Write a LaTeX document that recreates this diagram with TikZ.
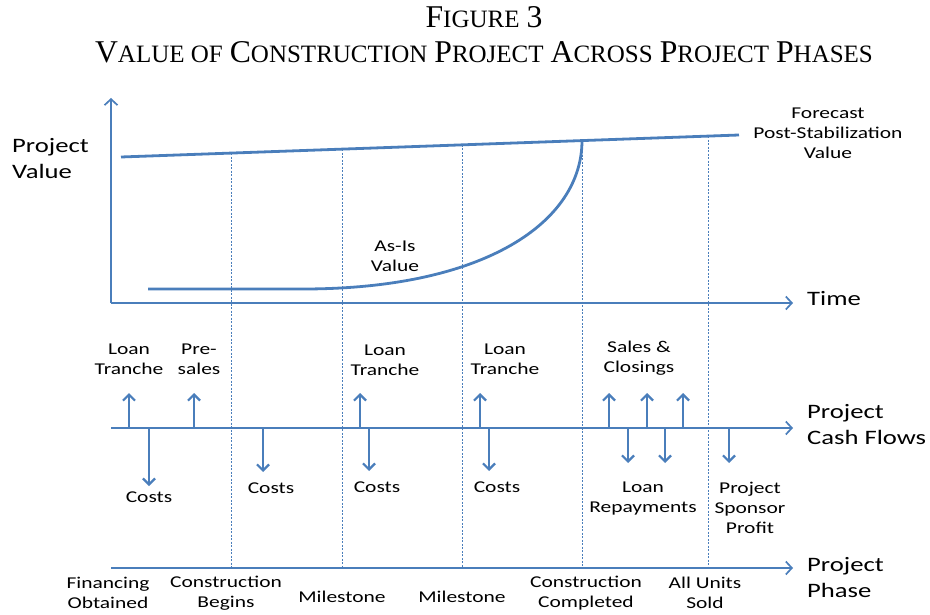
\documentclass[tikz,border=0pt]{standalone}
\usepackage{fontspec}
\setmainfont{Carlito}[FakeStretch=1.3]
\newfontfamily\titlefont{Liberation Serif}
\usetikzlibrary{arrows.meta,positioning,calc}
\definecolor{chartblue}{RGB}{74,126,187}

\newcommand{\capsc}[2]{{\fontsize{31.7}{34}\selectfont #1}{\fontsize{25}{34}\selectfont #2}}

\begin{document}
\begin{tikzpicture}[x=1pt, y=-1pt,
    axis/.style={draw=chartblue, line width=1.7pt, -{Straight Barb[length=6pt,width=13pt]}},
    valueline/.style={draw=chartblue, line width=2.8pt},
    flow/.style={draw=chartblue, line width=2.2pt, -{Straight Barb[length=6pt,width=12pt]}},
    phase/.style={draw=chartblue, line width=0.7pt, dash pattern=on 2pt off 1.5pt},
    lbl/.style={align=center, font=\fontsize{16.5}{20}\selectfont, inner sep=0pt},
    biglbl/.style={align=left, font=\fontsize{20.5}{26}\selectfont, inner sep=0pt, anchor=west},
    titlelbl/.style={anchor=base, inner sep=0pt, font=\titlefont\fontsize{28}{34}\selectfont}]
    \useasboundingbox (0,0) rectangle (930,615);

    % title
    \node[titlelbl] (fig) at (484,28) {\capsc{F}{IGURE} \capsc{3}{}};
    \node[titlelbl] (title) at (484,63)
        {\capsc{V}{ALUE OF} \capsc{C}{ONSTRUCTION} \capsc{P}{ROJECT} \capsc{A}{CROSS} \capsc{P}{ROJECT} \capsc{P}{HASES}};

    % axes
    \coordinate (origin) at (111,303);
    \coordinate (vtop) at (111,98);
    \coordinate (tend) at (793,303);
    \coordinate (cfstart) at (111,428);
    \coordinate (cfend) at (793,428);
    \coordinate (phstart) at (111,568);
    \coordinate (phend) at (793,568);
    \draw[axis] (origin) -- (vtop);
    \draw[axis] (origin) -- (tend);
    \draw[axis] (cfstart) -- (cfend);
    \draw[axis] (phstart) -- (phend);

    \node[biglbl] (pvalue) at (12,159) {Project\\Value};
    \node[biglbl] (time) at (807,299) {Time};
    \node[biglbl] (cashflows) at (807,425) {Project\\Cash Flows};
    \node[biglbl] (projphase) at (807,578) {Project\\Phase};

    % phase markers
    \foreach \n/\x/\y in {1/231/153.1, 2/342/149.1, 3/462/144.9, 4/582/140.6, 5/708/136.1} {
        \coordinate (ptop\n) at (\x,\y);
        \coordinate (pbot\n) at (\x,568);
        \draw[phase] (ptop\n) -- (pbot\n);
    }

    % value curves
    \coordinate (fstart) at (121,157);
    \coordinate (fend) at (739,135);
    \draw[valueline] (fstart) -- (fend);
    \node[lbl, align=center] (forecast) at (828,133) {Forecast\\Post-Stabilization\\Value};

    \coordinate (asis0) at (148,289);
    \coordinate (asis1) at (303,289);
    \draw[valueline] (asis0) -- (asis1) .. controls (485,289) and (582,222) .. (ptop4);
    \node[lbl] (asis) at (395,256) {As-Is\\Value};

    % cash flows
    \foreach \n/\x/\y in {1/129/393, 2/194/393, 3/360/393, 4/480/393, 5/609/393, 6/647/393, 7/683/393,
                          8/149/486, 9/263/472, 10/369/471, 11/489/471, 12/628/463, 13/665/463, 14/729/463} {
        \coordinate (cf\n) at (\x,428);
        \coordinate (cftip\n) at (\x,\y);
        \draw[flow] (cf\n) -- (cftip\n);
    }

    \node[lbl] (tranche1) at (129,359) {Loan\\Tranche};
    \node[lbl] (presales) at (199,359) {Pre-\\sales};
    \node[lbl] (tranche2) at (385,360) {Loan\\Tranche};
    \node[lbl] (tranche3) at (505,359) {Loan\\Tranche};
    \node[lbl] (sales) at (639,358) {Sales \&\\Closings};
    \node[lbl] (costs1) at (149,497) {Costs};
    \node[lbl] (costs2) at (271,488) {Costs};
    \node[lbl] (costs3) at (377,487) {Costs};
    \node[lbl] (costs4) at (497,487) {Costs};
    \node[lbl] (repay) at (643,499) {Loan\\Repayments};
    \node[lbl] (profit) at (750,508) {Project\\Sponsor\\Profit};

    % phase labels
    \node[lbl] (financing) at (108,593) {Financing\\Obtained};
    \node[lbl] (begins) at (226,593) {Construction\\Begins};
    \node[lbl] (mile1) at (342,597) {Milestone};
    \node[lbl] (mile2) at (462,597) {Milestone};
    \node[lbl] (completed) at (586,593) {Construction\\Completed};
    \node[lbl] (sold) at (705,593) {All Units\\Sold};
\end{tikzpicture}
\end{document}
